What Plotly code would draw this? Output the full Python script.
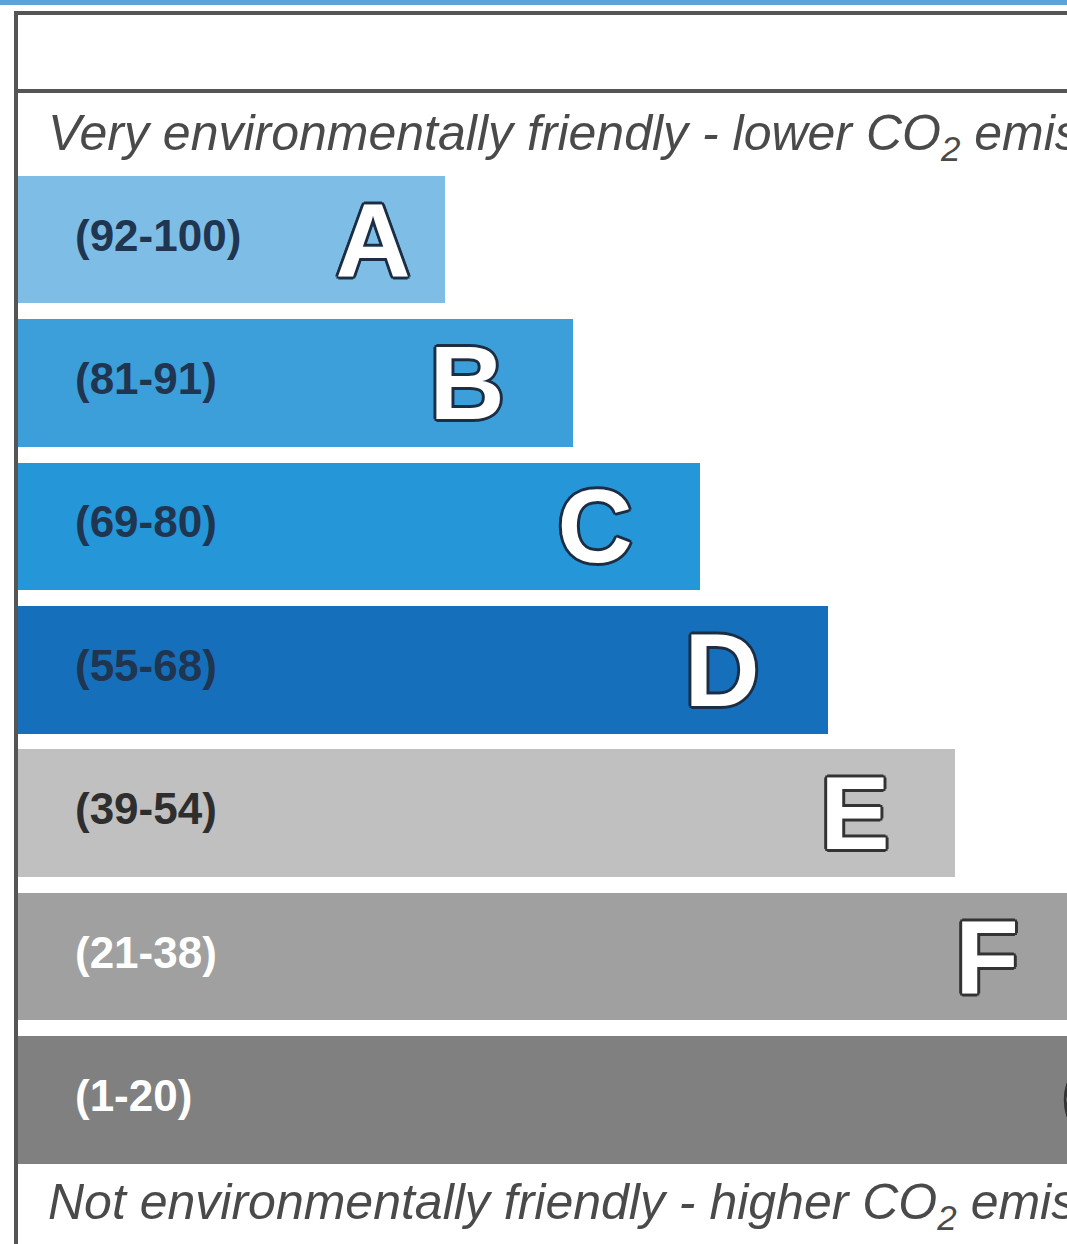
import plotly.graph_objects as go

# ---- data ----
bands = ["A", "B", "C", "D", "E", "F", "G"]
ranges = ["(92-100)", "(81-91)", "(69-80)", "(55-68)", "(39-54)", "(21-38)", "(1-20)"]
band_lengths = [427, 555, 682, 810, 937, 1065, 1192]
band_colors = ["#7ebee6", "#3d9fd9", "#2596d8", "#166fba", "#c0c0c0", "#a0a0a0", "#808080"]
top_text = "Very environmentally friendly - lower CO<sub>2</sub> emissions"
bottom_text = "Not environmentally friendly - higher CO<sub>2</sub> emissions"

# ---- styling ----
W, H = 1067, 1244
label_colors = ["#1f3550", "#1f3550", "#1f3550", "#1f3550", "#2e2e2e", "#ffffff", "#ffffff"]
outline_colors = ["#1c2e44", "#1c2e44", "#1c2e44", "#1c2e44", "#333333", "#333333", "#333333"]
letter_inset = [72, 106, 105, 106, 100, 96, 107]
letter_drop = 0.07  # fraction of a band pitch to optically centre the big letters
FONT = "Liberation Sans, Arial, sans-serif"

pos = list(range(len(bands)))

def outline(c):
    s = []
    for dx, dy in [(-3, 0), (3, 0), (0, -3), (0, 3), (-2, -2), (2, -2), (-2, 2), (2, 2)]:
        s.append(f"{dx}px {dy}px 0 {c}")
    return ", ".join(s)

fig = go.Figure()
fig.add_trace(go.Bar(
    y=pos, x=band_lengths, orientation="h", width=0.89,
    marker=dict(color=band_colors, line=dict(width=0)),
    hoverinfo="skip", showlegend=False,
))
fig.add_trace(go.Scatter(
    y=pos, x=[57] * len(pos), mode="text", text=ranges,
    textposition="middle right",
    textfont=dict(family=FONT, size=44, color=label_colors, weight="bold"),
    hoverinfo="skip", showlegend=False, cliponaxis=True,
))
# letters, one trace per outline colour group
for grp in sorted(set(outline_colors)):
    idx = [i for i in pos if outline_colors[i] == grp]
    fig.add_trace(go.Scatter(
        y=[i + letter_drop for i in idx], x=[band_lengths[i] - letter_inset[i] for i in idx],
        mode="text", text=[bands[i] for i in idx], textposition="middle center",
        textfont=dict(family=FONT, size=104, color="white", weight="bold",
                      shadow=outline(grp)),
        hoverinfo="skip", showlegend=False, cliponaxis=True,
    ))

def py(p):
    return 1 - p / H

def px(p):
    return p / W

fig.add_annotation(xref="paper", yref="paper", x=px(46), y=py(136), text=top_text,
                   showarrow=False, xanchor="left", yanchor="middle",
                   font=dict(family=FONT, size=50, color="#4a4a4a", style="italic"))
fig.add_annotation(xref="paper", yref="paper", x=px(46), y=py(1205), text=bottom_text,
                   showarrow=False, xanchor="left", yanchor="middle",
                   font=dict(family=FONT, size=50, color="#4a4a4a", style="italic"))

shapes = [
    dict(type="rect", xref="paper", yref="paper", x0=0, x1=1, y0=py(5), y1=py(0),
         fillcolor="#5aa4dc", line=dict(width=0), layer="above"),
    dict(type="line", xref="paper", yref="paper", x0=px(15), x1=1, y0=py(13), y1=py(13),
         line=dict(color="#555555", width=4), layer="above"),
    dict(type="line", xref="paper", yref="paper", x0=px(15), x1=1, y0=py(91), y1=py(91),
         line=dict(color="#555555", width=4), layer="above"),
    dict(type="line", xref="paper", yref="paper", x0=px(16), x1=px(16), y0=0, y1=py(11),
         line=dict(color="#555555", width=4), layer="above"),
]

fig.update_layout(
    width=W, height=H, margin=dict(l=0, r=0, t=0, b=0),
    paper_bgcolor="white", plot_bgcolor="white",
    xaxis=dict(range=[-18, W - 18], visible=False, fixedrange=True),
    yaxis=dict(range=[7.004, -1.670], visible=False, fixedrange=True),
    shapes=shapes, bargap=0,
)

fig.write_html("out.html", config={"displayModeBar": False})
with open("out.html", "r", encoding="utf-8") as f:
    html = f.read()
html = html.replace("<head>", "<head><style>html,body{margin:0;padding:0;overflow:hidden;}</style>", 1)
with open("out.html", "w", encoding="utf-8") as f:
    f.write(html)
